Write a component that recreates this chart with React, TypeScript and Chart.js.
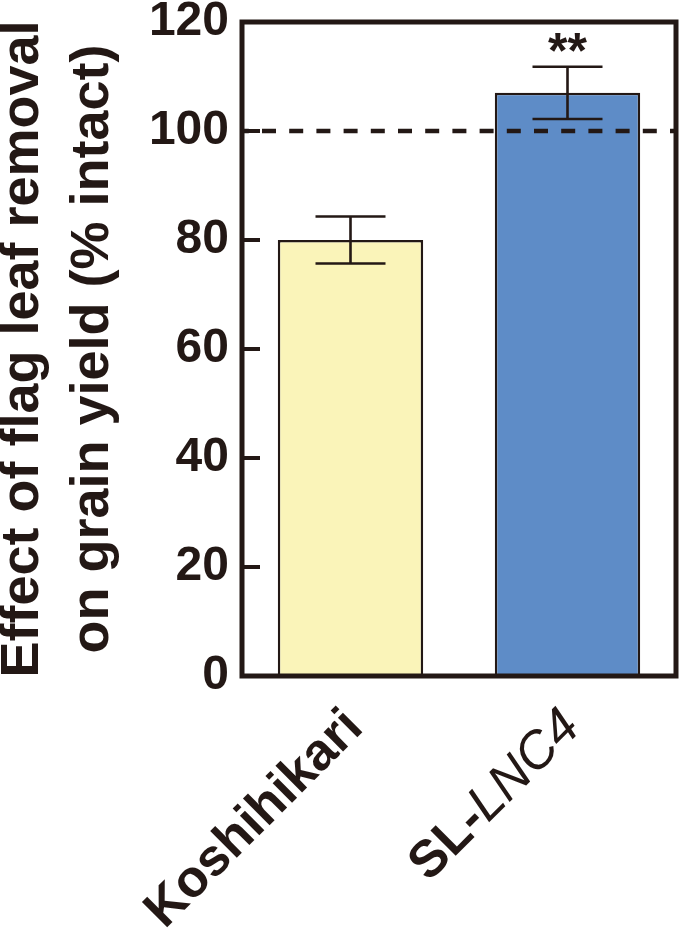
import React, { useEffect, useRef } from "react";
import { Chart, registerables } from "chart.js";

Chart.register(...registerables);

const categories = ["Koshihikari", "SL-LNC4"];
const labelParts = [
  [{ t: "Koshihikari", italic: false }],
  [
    { t: "SL-", italic: false },
    { t: "LNC4", italic: true },
  ],
];
const means = [80, 107];
const errors = [4.3, 4.8];
const barColors = ["#FAF4B9", "#5E8CC7"];
const significance = ["", "**"];
const referenceValue = 100;
const yTicks = [0, 20, 40, 60, 80, 100, 120];
const yTitle = ["Effect of flag leaf removal", "on grain yield (% intact)"];

const INK = "#231815";
const FONT = '"Liberation Sans", Arial, Helvetica, sans-serif';

const overlayPlugin = {
  id: "overlay",
  afterDatasetsDraw(chart: any) {
    const { ctx, chartArea, scales } = chart;
    const xs = scales.x;
    const ys = scales.y;
    ctx.save();

    // reference dashed line
    const yRef = ys.getPixelForValue(referenceValue);
    ctx.strokeStyle = INK;
    ctx.lineWidth = 4.5;
    ctx.setLineDash([14, 13.2]);
    ctx.lineDashOffset = 7.2;
    ctx.beginPath();
    ctx.moveTo(chartArea.left, yRef);
    ctx.lineTo(chartArea.right, yRef);
    ctx.stroke();
    ctx.setLineDash([]);

    // error bars
    ctx.lineWidth = 2.6;
    means.forEach((m, i) => {
      const cx = xs.getPixelForValue(i);
      const hi = ys.getPixelForValue(m + errors[i]);
      const lo = ys.getPixelForValue(m - errors[i]);
      const half = 35;
      ctx.beginPath();
      ctx.moveTo(cx, hi);
      ctx.lineTo(cx, lo);
      ctx.moveTo(cx - half, hi);
      ctx.lineTo(cx + half, hi);
      ctx.moveTo(cx - half, lo);
      ctx.lineTo(cx + half, lo);
      ctx.stroke();
      if (significance[i]) {
        ctx.fillStyle = INK;
        ctx.font = `bold 50px ${FONT}`;
        ctx.textAlign = "center";
        ctx.textBaseline = "alphabetic";
        ctx.fillText(significance[i], cx, hi + 1);
      }
    });

    // inward ticks
    ctx.lineWidth = 4;
    yTicks.forEach((v) => {
      const y = ys.getPixelForValue(v);
      ctx.beginPath();
      ctx.moveTo(chartArea.left, y);
      ctx.lineTo(chartArea.left + 18, y);
      ctx.stroke();
    });

    // frame
    ctx.lineWidth = 5;
    ctx.strokeRect(
      chartArea.left,
      chartArea.top,
      chartArea.right - chartArea.left,
      chartArea.bottom - chartArea.top
    );

    // x category labels
    ctx.fillStyle = INK;
    labelParts.forEach((parts, i) => {
      const cx = xs.getPixelForValue(i);
      ctx.save();
      ctx.translate(cx - 14, chartArea.bottom + 25);
      ctx.rotate(-Math.PI / 4);
      ctx.textAlign = "left";
      ctx.textBaseline = "top";
      const fonts = parts.map((p) =>
        p.italic ? `italic 52px ${FONT}` : `bold 52px ${FONT}`
      );
      let total = 0;
      const widths = parts.map((p, k) => {
        ctx.font = fonts[k];
        const w = ctx.measureText(p.t).width;
        total += w;
        return w;
      });
      let x = -total;
      parts.forEach((p, k) => {
        ctx.font = fonts[k];
        ctx.fillText(p.t, x, 0);
        x += widths[k];
      });
      ctx.restore();
    });

    ctx.restore();
  },
};

export default function App() {
  const ref = useRef<HTMLCanvasElement | null>(null);

  useEffect(() => {
    document.body.style.margin = "0";
    const canvas = ref.current;
    if (!canvas) return;
    const chart = new Chart(canvas, {
      type: "bar",
      data: {
        labels: categories,
        datasets: [
          {
            data: means,
            backgroundColor: barColors,
            borderColor: INK,
            borderWidth: 2.5,
            barPercentage: 0.67,
            categoryPercentage: 1,
          },
        ],
      },
      options: {
        animation: false,
        responsive: false,
        devicePixelRatio: 1,
        layout: {
          autoPadding: false,
          padding: { left: 0, top: 22, right: 9, bottom: 0 },
        },
        plugins: {
          legend: { display: false },
          tooltip: { enabled: false },
        },
        scales: {
          x: {
            grid: { display: false },
            border: { display: false },
            ticks: { display: false },
            afterFit(scale: any) {
              scale.height = 254;
              scale.paddingLeft = 0;
              scale.paddingRight = 0;
            },
          },
          y: {
            min: 0,
            max: 120,
            grid: { display: false },
            border: { display: false },
            ticks: {
              stepSize: 20,
              color: INK,
              padding: 5,
              font: { family: FONT, size: 48, weight: "bold" },
            },
            title: {
              display: true,
              text: yTitle,
              color: INK,
              padding: { top: -11, bottom: 0 },
              font: { family: FONT, size: 54, weight: "bold", lineHeight: 1.28 },
            },
            afterFit(scale: any) {
              scale.width = 242;
              scale.paddingTop = 0;
              scale.paddingBottom = 0;
            },
          },
        },
      },
      plugins: [overlayPlugin],
    } as any);
    return () => chart.destroy();
  }, []);

  return (
    <div style={{ width: 685, height: 930, background: "#fff" }}>
      <canvas ref={ref} width={685} height={930} style={{ display: "block" }} />
    </div>
  );
}
